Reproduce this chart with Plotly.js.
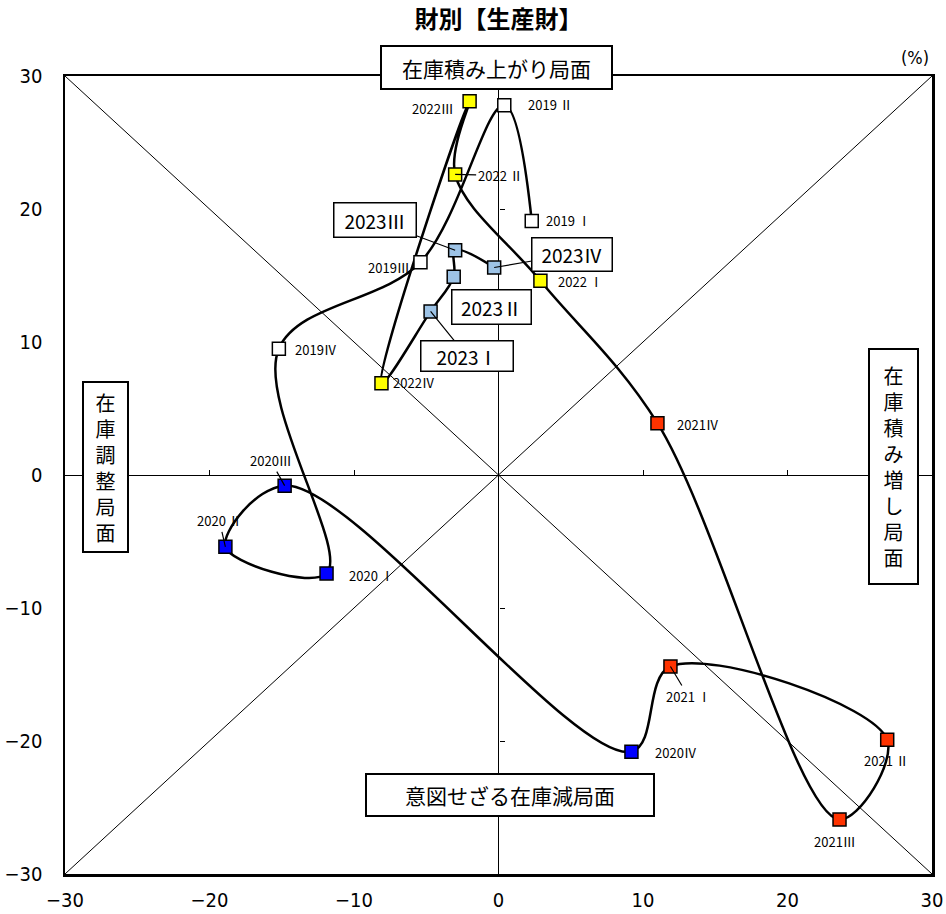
<!DOCTYPE html>
<html>
<head>
<meta charset="utf-8">
<script src="https://cdn.plot.ly/plotly-3.0.1.min.js"></script>
<style>html,body{margin:0;padding:0;background:#fff;}#chart{width:946px;height:914px;}</style>
</head>
<body>
<div id="chart"></div>
<script>
// ---- data ----
const quarters = ['2019 Ⅰ','2019 Ⅱ','2019Ⅲ','2019Ⅳ','2020 Ⅰ','2020 Ⅱ','2020Ⅲ','2020Ⅳ','2021 Ⅰ','2021 Ⅱ','2021Ⅲ','2021Ⅳ','2022 Ⅰ','2022 Ⅱ','2022Ⅲ','2022Ⅳ','2023 Ⅰ','2023 Ⅱ','2023Ⅲ','2023Ⅳ'];
const years = ['2019','2019','2019','2019','2020','2020','2020','2020','2021','2021','2021','2021','2022','2022','2022','2022','2023','2023','2023','2023'];
const productionYoY = [2.3, 0.4, -5.4, -15.2, -11.9, -18.9, -14.8, 9.2, 11.9, 26.9, 23.6, 11.0, 2.9, -3.0, -2.0, -8.1, -4.7, -3.1, -3.0, -0.3];
const inventoryYoY = [19.1, 27.8, 16.0, 9.5, -7.4, -5.4, -0.8, -20.8, -14.4, -19.9, -25.9, 3.9, 14.6, 22.6, 28.1, 6.9, 12.3, 14.9, 16.9, 15.6];
const tickValues = [-30, -20, -10, 0, 10, 20, 30];
const phaseLabels = ['在庫積み上がり局面', '在庫積み増し局面', '意図せざる在庫減局面', '在庫調整局面'];
const chartTitle = '財別【生産財】';
const unitLabel = '(%)';

// ---- styles ----
const yearColors = {'2019':'#FFFFFF','2020':'#0000FF','2021':'#FF3300','2022':'#FFFF00','2023':'#9DC3E6'};
// label placement per point: [dx, dy (px, down positive), leader]
const labelPlace = [
  [37,0,false],[46,-1,false],[-31,5,false],[37,1,false],
  [45,2,false],[-6,-26,true],[-14,-25,true],[45,1,false],
  [18,30,true],[-1,21,false],[-5,22,false],[41,1,false],
  [40,1,false],[45,1,true],[-37,7,false],[33,-1,false]
];
// big callout boxes for 2023: [dx, dy, w, h, leader]
const calloutPlace = {16:[36,44.5,94,32,true],17:[38,30,81,36,false],18:[-80,-30,84,36,true],19:[78,-13.5,82,35,true]};

const jp = '"Noto Sans CJK JP", "Noto Sans", sans-serif';
const narrow = '"Liberation Sans Narrow", "DejaVu Sans Condensed", "Noto Sans CJK JP", sans-serif';

const traces = [
  {
    x: productionYoY, y: inventoryYoY, text: quarters,
    mode: 'lines+markers', type: 'scatter',
    line: {color: '#000', width: 2.5, shape: 'spline', smoothing: 1},
    marker: {symbol: 'square', size: 13, color: years.map(y => yearColors[y]), line: {color: '#000', width: 1.5}},
    hoverinfo: 'text', showlegend: false, cliponaxis: false
  },
  {x: [null], y: [null], xaxis: 'x2', yaxis: 'y2', mode: 'markers', showlegend: false, hoverinfo: 'skip'}
];

const annotations = [];
quarters.forEach((q, i) => {
  if (calloutPlace[i]) {
    const [dx, dy, w, h, leader] = calloutPlace[i];
    const a = {x: productionYoY[i], y: inventoryYoY[i], xref: 'x', yref: 'y', text: q.replace(' ', ''),
      font: {family: jp, size: 19, color: '#000'}, bgcolor: '#fff', bordercolor: '#000', borderwidth: 1.5,
      borderpad: 0, width: w - 3, height: h - 3};
    if (leader) { Object.assign(a, {showarrow: true, arrowhead: 0, arrowwidth: 1.2, arrowcolor: '#000', ax: dx, ay: dy}); }
    else { Object.assign(a, {showarrow: false, xshift: dx, yshift: -dy}); }
    annotations.push(a);
  } else {
    const [dx, dy, leader] = labelPlace[i];
    const a = {x: productionYoY[i], y: inventoryYoY[i], xref: 'x', yref: 'y', text: q,
      font: {family: jp, size: 13, color: '#000'}};
    if (leader) { Object.assign(a, {showarrow: true, arrowhead: 0, arrowwidth: 1.2, arrowcolor: '#000', ax: dx, ay: dy}); }
    else { Object.assign(a, {showarrow: false, xshift: dx, yshift: -dy}); }
    annotations.push(a);
  }
});

const boxFont = {family: jp, size: 20, color: '#000'};
const vert = s => s.split('').join('<br>');
const cm = {xanchor: 'center', yanchor: 'middle', showarrow: false, xref: 'paper', yref: 'paper', bgcolor: '#fff', bordercolor: '#000', borderwidth: 2, borderpad: 0};
annotations.push(
  Object.assign({}, cm, {x: 0.4977, y: 1.0106, text: phaseLabels[0], font: {family: jp, size: 21, color: '#000'}, width: 229, height: 41}),
  Object.assign({}, cm, {x: 0.9559, y: 0.5107, text: vert(phaseLabels[1]), font: boxFont, width: 47, height: 233, align: 'center'}),
  Object.assign({}, cm, {x: 0.5133, y: 0.099, text: phaseLabels[2], font: {family: jp, size: 21, color: '#000'}, width: 286, height: 40}),
  Object.assign({}, cm, {x: 0.0471, y: 0.5094, text: vert(phaseLabels[3]), font: boxFont, width: 43, height: 168, align: 'center'}),
  {xref: 'paper', yref: 'paper', x: 0.980, y: 1.0238, xanchor: 'center', yanchor: 'middle', text: unitLabel, showarrow: false, font: {family: narrow, size: 18, color: '#000'}}
);

const baseAxis = {
  range: [-30, 30], tickvals: tickValues, ticktext: tickValues.map(v => v < 0 ? '−' + Math.abs(v) : String(v)),
  showgrid: false, zeroline: true, zerolinecolor: '#000', zerolinewidth: 1,
  showline: true, linecolor: '#000', linewidth: 2.5, mirror: true, ticks: '',
  tickfont: {family: narrow, size: 20, color: '#000'}, fixedrange: true
};
const tickAxis = {
  range: [-30, 30], tickvals: tickValues, showticklabels: false, showgrid: false, zeroline: false, showline: false,
  ticks: 'inside', ticklen: 5, tickwidth: 1, tickcolor: '#000', anchor: 'free', position: 0.5
};

const layout = {
  width: 946, height: 914,
  margin: {l: 65, r: 14, t: 76, b: 40},
  paper_bgcolor: '#fff', plot_bgcolor: '#fff',
  title: {text: chartTitle, font: {family: jp, size: 24, color: '#000', weight: 'bold'}, x: 0.5, xref: 'paper', y: 0.979, yref: 'container', yanchor: 'middle'},
  xaxis: Object.assign({}, baseAxis, {ticklabelstandoff: 6}),
  yaxis: Object.assign({}, baseAxis, {ticklabelstandoff: 16}),
  xaxis2: Object.assign({}, tickAxis, {overlaying: 'x', side: 'bottom'}),
  yaxis2: Object.assign({}, tickAxis, {overlaying: 'y', side: 'left'}),
  shapes: [
    {type: 'line', xref: 'x', yref: 'y', x0: -30, y0: 30, x1: 30, y1: -30, line: {color: '#000', width: 1}, layer: 'below'},
    {type: 'line', xref: 'x', yref: 'y', x0: -30, y0: -30, x1: 30, y1: 30, line: {color: '#000', width: 1}, layer: 'below'}
  ],
  annotations: annotations,
  showlegend: false
};

Plotly.newPlot('chart', traces, layout, {displayModeBar: false, staticPlot: true});
</script>
</body>
</html>
